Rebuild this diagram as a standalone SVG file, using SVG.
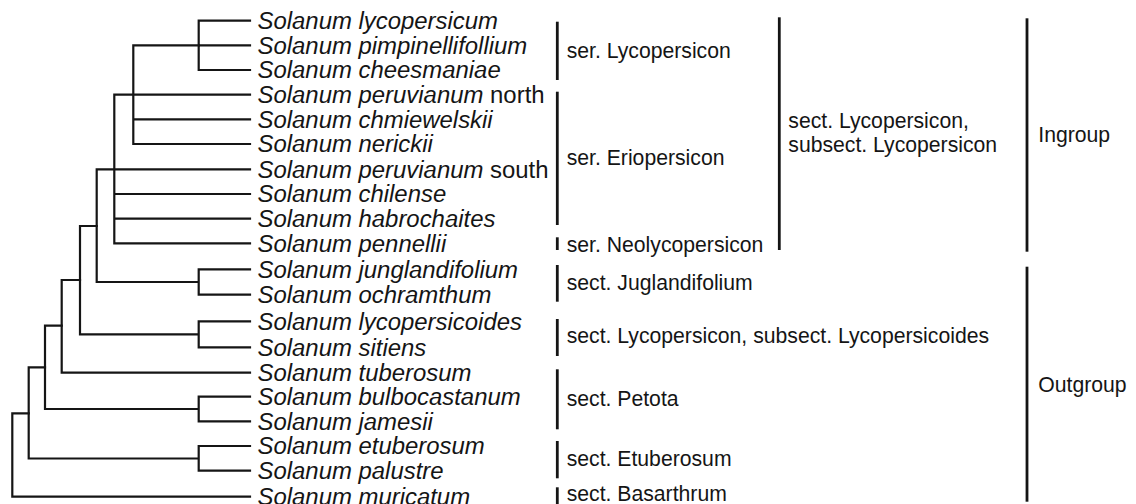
<svg xmlns="http://www.w3.org/2000/svg" width="1136" height="504" viewBox="0 0 1136 504">
<style>
.sp{font-family:"Liberation Sans",Arial,sans-serif;font-size:23px;font-style:italic;fill:#151515}
.sp tspan.n{font-style:normal}
.lb{font-family:"Liberation Sans",Arial,sans-serif;font-size:21.2px;fill:#151515}
.br{stroke:#151515;stroke-width:2.2;fill:none;stroke-linecap:square;stroke-linejoin:miter}
.bar{stroke:#151515;stroke-width:2.8;fill:none}
</style>
<rect width="1136" height="504" fill="#ffffff"/>
<g id="connectors" class="br">
<path d="M198.7,20.7V70 M198.7,20.7H250 M198.7,45.3H250 M198.7,70H250"/>
<path d="M133.3,45.3V144 M133.3,45.3H198.7 M133.3,119.3H250 M133.3,144H250"/>
<path d="M114.3,94.7V243.3 M114.3,94.7H250 M114.3,194H250 M114.3,218.7H250 M114.3,243.3H250"/>
<path d="M96.7,169.3V282 M96.7,169.3H250 M96.7,282H198.7 M198.7,269.3V294.7 M198.7,269.3H250 M198.7,294.7H250"/>
<path d="M80,226V334.3 M80,226H96.7 M80,334.3H198.7 M198.7,321.3V347.3 M198.7,321.3H250 M198.7,347.3H250"/>
<path d="M61.7,280V372.7 M61.7,280H80 M61.7,372.7H250"/>
<path d="M45,325.7V409 M45,325.7H61.7 M45,409H198.7 M198.7,396.7V421.3 M198.7,396.7H250 M198.7,421.3H250"/>
<path d="M28.7,367.3V458.5 M28.7,367.3H45 M28.7,458.5H198.7 M198.7,446V470.7 M198.7,446H250 M198.7,470.7H250"/>
<path d="M12.3,413.3V496.7 M12.3,413.3H28.7 M12.3,496.7H250"/>
</g>
<g id="leaves" transform="matrix(1.04,0,0,1,-10.3,0)">
<g id="leaf-lycopersicum"><text class="sp" x="257.5" y="29.2">Solanum lycopersicum</text></g>
<g id="leaf-pimpinellifollium"><text class="sp" x="257.5" y="53.8">Solanum pimpinellifollium</text></g>
<g id="leaf-cheesmaniae"><text class="sp" x="257.5" y="78.5">Solanum cheesmaniae</text></g>
<g id="leaf-peruvianum-north"><text class="sp" x="257.5" y="103.2">Solanum peruvianum<tspan class="n"> north</tspan></text></g>
<g id="leaf-chmiewelskii"><text class="sp" x="257.5" y="127.8">Solanum chmiewelskii</text></g>
<g id="leaf-nerickii"><text class="sp" x="257.5" y="152.5">Solanum nerickii</text></g>
<g id="leaf-peruvianum-south"><text class="sp" x="257.5" y="177.8">Solanum peruvianum<tspan class="n"> south</tspan></text></g>
<g id="leaf-chilense"><text class="sp" x="257.5" y="202.5">Solanum chilense</text></g>
<g id="leaf-habrochaites"><text class="sp" x="257.5" y="227.2">Solanum habrochaites</text></g>
<g id="leaf-pennellii"><text class="sp" x="257.5" y="251.8">Solanum pennellii</text></g>
<g id="leaf-junglandifolium"><text class="sp" x="257.5" y="277.8">Solanum junglandifolium</text></g>
<g id="leaf-ochramthum"><text class="sp" x="257.5" y="303.2">Solanum ochramthum</text></g>
<g id="leaf-lycopersicoides"><text class="sp" x="257.5" y="329.8">Solanum lycopersicoides</text></g>
<g id="leaf-sitiens"><text class="sp" x="257.5" y="355.8">Solanum sitiens</text></g>
<g id="leaf-tuberosum"><text class="sp" x="257.5" y="381.2">Solanum tuberosum</text></g>
<g id="leaf-bulbocastanum"><text class="sp" x="257.5" y="405.2">Solanum bulbocastanum</text></g>
<g id="leaf-jamesii"><text class="sp" x="257.5" y="429.8">Solanum jamesii</text></g>
<g id="leaf-etuberosum"><text class="sp" x="257.5" y="454.5">Solanum etuberosum</text></g>
<g id="leaf-palustre"><text class="sp" x="257.5" y="479.2">Solanum palustre</text></g>
<g id="leaf-muricatum"><text class="sp" x="257.5" y="505.2">Solanum muricatum</text></g>
</g>
<g id="ser-lycopersicon"><line class="bar" x1="557.3" y1="21.7" x2="557.3" y2="80"/><text class="lb" x="566.7" y="58.3">ser. Lycopersicon</text></g>
<g id="ser-eriopersicon"><line class="bar" x1="557.3" y1="91.7" x2="557.3" y2="225"/><text class="lb" x="566.7" y="165">ser. Eriopersicon</text></g>
<g id="ser-neolycopersicon"><line class="bar" x1="557.3" y1="237.3" x2="557.3" y2="250"/><text class="lb" x="566.7" y="251.7">ser. Neolycopersicon</text></g>
<g id="sect-juglandifolium"><line class="bar" x1="557.3" y1="265" x2="557.3" y2="301.7"/><text class="lb" x="566.7" y="290">sect. Juglandifolium</text></g>
<g id="sect-lycopersicoides"><line class="bar" x1="557.3" y1="319" x2="557.3" y2="356"/><text class="lb" x="566.7" y="343.3">sect. Lycopersicon, subsect. Lycopersicoides</text></g>
<g id="sect-petota"><line class="bar" x1="557.3" y1="369.3" x2="557.3" y2="429.3"/><text class="lb" x="566.7" y="405.7">sect. Petota</text></g>
<g id="sect-etuberosum"><line class="bar" x1="557.3" y1="441" x2="557.3" y2="478.3"/><text class="lb" x="566.7" y="466">sect. Etuberosum</text></g>
<g id="sect-basarthrum"><line class="bar" x1="557.3" y1="487.3" x2="557.3" y2="504"/><text class="lb" x="566.7" y="500.7">sect. Basarthrum</text></g>
<g id="sect-lycopersicon"><line class="bar" x1="779.3" y1="17.3" x2="779.3" y2="250"/><text class="lb" x="788.3" y="128.3">sect. Lycopersicon,</text><text class="lb" x="788.3" y="151.7">subsect. Lycopersicon</text></g>
<g id="ingroup"><line class="bar" x1="1027" y1="18.3" x2="1027" y2="251.7"/><text class="lb" x="1038.3" y="141.7">Ingroup</text></g>
<g id="outgroup"><line class="bar" x1="1027" y1="266.7" x2="1027" y2="501.7"/><text class="lb" x="1038.3" y="391.7">Outgroup</text></g>
</svg>
